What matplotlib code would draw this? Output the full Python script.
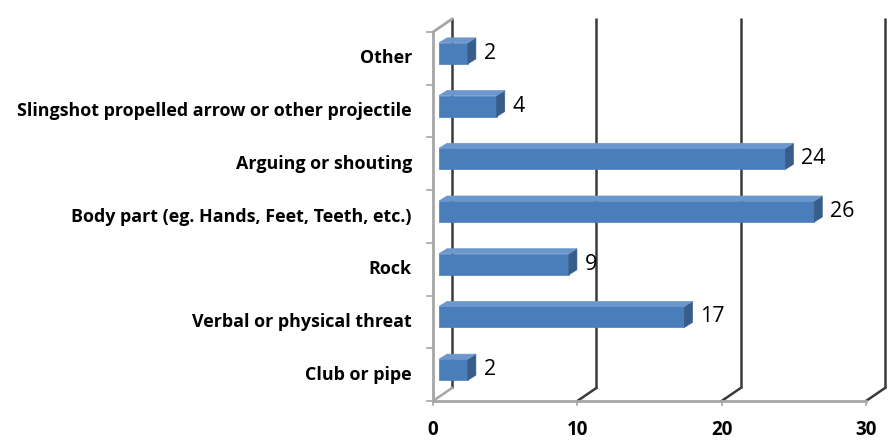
import matplotlib
matplotlib.use("Agg")
import matplotlib.pyplot as plt
from matplotlib.patches import Polygon

# Data (bottom to top)
categories = ["Club or pipe", "Verbal or physical threat", "Rock",
              "Body part (eg. Hands, Feet, Teeth, etc.)", "Arguing or shouting",
              "Slingshot propelled arrow or other projectile", "Other"]
values = [2, 17, 9, 26, 24, 4, 2]
x_ticks = [0, 10, 20, 30]

# Pixel geometry of the reference (890x445)
W, H = 890, 445
X0_PX, X30_PX = 433, 866
Y0_PX, YTOP_PX = 401, 32
PX = 30 / (X30_PX - X0_PX)            # data units per pixel (x)
PY = len(categories) / (Y0_PX - YTOP_PX)  # category units per pixel (y)

DEPTH = (19 * PX, 13 * PY)     # back wall offset
BAR_OFF = (6 * PX, 5 * PY)     # bar front face offset
BAR_DEPTH = (8 * PX, 5 * PY)   # bar side thickness
BAR_H = 21 * PY

FRONT = "#4A7EBB"
SIDE = "#385D8A"
TOP = "#6C97CC"
GRID = "#3A3A3A"
AXIS = "#A6A6A6"

plt.rcParams['font.family'] = ['Open Sans', 'DejaVu Sans']

fig = plt.figure(figsize=(W / 100, H / 100), dpi=100)
ax = fig.add_axes([0, 0, 1, 1])
ax.set_xlim(-X0_PX * PX, (W - X0_PX) * PX)
ax.set_ylim(-(H - Y0_PX) * PY, Y0_PX * PY)
ax.axis("off")

n = len(categories)
dx, dy = DEPTH
xmax = x_ticks[-1]

# back wall gridlines and floor diagonals
for t in x_ticks:
    col = AXIS if t == 0 else GRID
    ax.plot([t + dx, t + dx], [dy, n + dy + 0.02], color=GRID, lw=1.8, zorder=1,
            solid_capstyle="butt")
    ax.plot([t, t + dx], [0, dy], color=col, lw=1.8, zorder=1)

# left wall
ax.plot([0, 0], [0, n], color=AXIS, lw=2, zorder=2)
ax.plot([0, dx], [n, n + dy], color=AXIS, lw=2, zorder=2)
for i in range(n + 1):
    ax.plot([-6 * PX, 0], [i, i], color=AXIS, lw=1.2, zorder=2)

# floor front edge
ax.plot([0, xmax], [0, 0], color=AXIS, lw=2, zorder=2)
for t in x_ticks:
    ax.plot([t, t], [0, -4 * PY], color=AXIS, lw=1.2, zorder=2)
    ax.text(t, -0.55, str(t), ha="center", va="center", fontsize=13.5,
            fontweight="bold", color="black")

# bars
bx, by = BAR_OFF
sx, sy = BAR_DEPTH
ys = [i + 0.5 + by for i in range(n)]
ax.barh(ys, values, left=bx, height=BAR_H, color=FRONT, edgecolor=FRONT,
        lw=0.5, zorder=4)
for y, v in zip(ys, values):
    x1 = bx + v
    top = y + BAR_H / 2
    bot = y - BAR_H / 2
    ax.add_patch(Polygon([(x1, bot), (x1 + sx, bot + sy), (x1 + sx, top + sy), (x1, top)],
                         closed=True, fc=SIDE, ec=SIDE, lw=0.5, zorder=4))
    ax.add_patch(Polygon([(bx, top), (bx + sx, top + sy), (x1 + sx, top + sy), (x1, top)],
                         closed=True, fc=TOP, ec=TOP, lw=0.5, zorder=4))
    ax.text(x1 + sx + 8 * PX, y, str(v), ha="left", va="center", fontsize=15.5,
            color="black", zorder=5)

# category labels
for i, c in enumerate(categories):
    ax.text(-21 * PX, i + 0.5, c, ha="right", va="center", fontsize=12.9,
            fontweight="bold", color="black")

fig.savefig("out.png", dpi=100, facecolor="white")
